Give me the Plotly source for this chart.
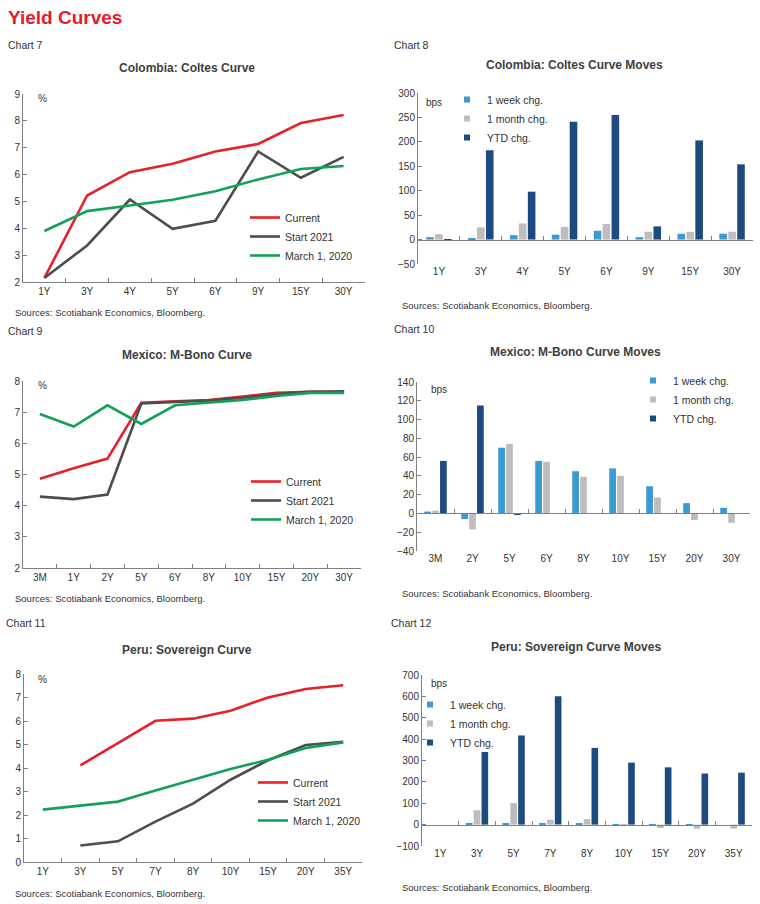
import plotly.graph_objects as go

W, H = 760, 904

# ---------------- data ----------------
co_tenors = ["1Y", "3Y", "4Y", "5Y", "6Y", "9Y", "15Y", "30Y"]
co_current = [2.15, 5.22, 6.09, 6.40, 6.86, 7.14, 7.92, 8.22]
co_start21 = [2.15, 3.36, 5.07, 3.98, 4.28, 6.86, 5.88, 6.66]
co_mar20 = [3.90, 4.64, 4.85, 5.06, 5.38, 5.82, 6.21, 6.32]

co_week = [5, 2, 9, 10, 18, 5, 12, 12]
co_month = [11, 25, 33, 26, 32, 16, 16, 16]
co_ytd = [-1, 183, 98, 241, 255, 27, 203, 154]

mx_tenors = ["3M", "1Y", "2Y", "5Y", "6Y", "8Y", "10Y", "15Y", "20Y", "30Y"]
mx_current = [4.86, 5.20, 5.51, 7.30, 7.35, 7.39, 7.50, 7.62, 7.65, 7.64]
mx_start21 = [4.29, 4.21, 4.36, 7.28, 7.33, 7.37, 7.46, 7.58, 7.65, 7.67]
mx_mar20 = [6.94, 6.54, 7.22, 6.62, 7.22, 7.30, 7.39, 7.52, 7.62, 7.62]

mx_bar_tenors = ["3M", "2Y", "5Y", "6Y", "8Y", "10Y", "15Y", "20Y", "30Y"]
mx_week = [2, -6, 70, 56, 45, 48, 29, 11, 6]
mx_month = [3, -17, 74, 55, 39, 40, 17, -7, -10]
mx_ytd = [56, 115, -1, 0, 0, 0, 0, 0, 0]

pe_tenors = ["1Y", "3Y", "5Y", "7Y", "8Y", "10Y", "15Y", "20Y", "35Y"]
pe_current = [None, 4.11, 5.06, 6.01, 6.10, 6.44, 7.00, 7.36, 7.52]
pe_start21 = [None, 0.70, 0.88, 1.72, 2.48, 3.50, 4.33, 4.98, 5.11]
pe_mar20 = [2.23, 2.41, 2.57, 3.04, 3.50, 3.96, 4.35, 4.85, 5.09]

pe_week = [0, 8, 6, 3, 3, 2, 2, 2, 0]
pe_month = [0, 67, 101, 23, 26, -1, -16, -19, -19]
pe_ytd = [0, 340, 417, 601, 359, 290, 268, 239, 243]

line_names = ["Current", "Start 2021", "March 1, 2020"]
bar_names = ["1 week chg.", "1 month chg.", "YTD chg."]

# ---------------- style ----------------
FONT = "Liberation Sans, Arial, sans-serif"
RED = "#E8202A"
GREY = "#4D4D4D"
GREEN = "#12A05A"
C_WEEK = "#3A9AD3"
C_MONTH = "#BDBDBD"
C_YTD = "#1F4A80"
AXIS = "#808080"
TXT = "#333333"
TITLE = "#404040"


def px(x):
    return x / W


def py(y):
    return 1 - y / H


fig = go.Figure()
annotations = []


def ann(text, x, y, size=10, color=TXT, bold=False, xanchor="left"):
    annotations.append(dict(
        text=f"<b>{text}</b>" if bold else text, x=px(x), y=py(y),
        xref="paper", yref="paper", xanchor=xanchor, yanchor="middle",
        showarrow=False, font=dict(family=FONT, size=size, color=color)))


TICKFONT = dict(family=FONT, size=10, color=TXT)


def yaxis(i, ydom, yrange, dtick):
    sx = "" if i == 1 else str(i)
    fig.layout["yaxis" + sx] = dict(
        domain=[py(ydom[1]), py(ydom[0])], anchor="x" + sx,
        range=yrange, dtick=dtick, tick0=yrange[0], automargin=False,
        showgrid=False, zeroline=False, showline=True, linecolor=AXIS,
        linewidth=1, ticks="inside", ticklen=4, tickcolor=AXIS,
        tickfont=TICKFONT, fixedrange=True)


def line_axes(i, xdom, ydom, yrange, dtick, ncat):
    sx = "" if i == 1 else str(i)
    fig.layout["xaxis" + sx] = dict(
        domain=[px(xdom[0]), px(xdom[1])], anchor="y" + sx,
        type="category", range=[-0.5, ncat - 0.5], automargin=False,
        showgrid=False, zeroline=False, showline=True, linecolor=AXIS,
        linewidth=1, ticks="inside", ticklen=4, tickcolor=AXIS,
        tickson="boundaries", tickfont=TICKFONT, fixedrange=True)
    yaxis(i, ydom, yrange, dtick)


def bar_axes(i, j, xdom, ydom, yrange, dtick, ncat):
    """Bars on axis i, whose line sits at zero; labels on axis j at bottom."""
    sx = str(i)
    zero_frac = (0 - yrange[0]) / (yrange[1] - yrange[0])
    ybot, ytop = py(ydom[1]), py(ydom[0])
    fig.layout["xaxis" + sx] = dict(
        domain=[px(xdom[0]), px(xdom[1])], anchor="free",
        position=ybot + zero_frac * (ytop - ybot),
        type="category", range=[-0.5, ncat - 0.5], automargin=False,
        showgrid=False, zeroline=False, showline=True, linecolor=AXIS,
        linewidth=1, ticks="inside", ticklen=4, tickcolor=AXIS,
        tickson="boundaries", showticklabels=False, fixedrange=True)
    fig.layout["xaxis" + str(j)] = dict(
        domain=[px(xdom[0]), px(xdom[1])], anchor="y" + sx,
        overlaying="x" + sx,
        type="category", range=[-0.5, ncat - 0.5], automargin=False,
        showgrid=False, zeroline=False, showline=False, ticks="",
        tickfont=TICKFONT, fixedrange=True)
    yaxis(i, ydom, yrange, dtick)


def legend_box(lg, xy):
    fig.layout[lg] = dict(
        x=px(xy[0]), y=py(xy[1]), xanchor="left", yanchor="top",
        bgcolor="rgba(0,0,0,0)", itemwidth=30, tracegroupgap=0,
        borderwidth=0, font=dict(family=FONT, size=10.5, color=TXT))


def line_chart(i, cats, series, legend_xy):
    sx = "" if i == 1 else str(i)
    lg = "legend" if i == 1 else f"legend{i}"
    for name, vals, col in zip(line_names, series, [RED, GREY, GREEN]):
        fig.add_trace(go.Scatter(
            x=cats, y=vals, name=name, mode="lines",
            line=dict(color=col, width=2.6), connectgaps=False,
            xaxis="x" + sx, yaxis="y" + sx, legend=lg,
            hoverinfo="skip"))
    legend_box(lg, legend_xy)


def bar_chart(i, j, cats, series, legend_xy):
    sx = str(i)
    lg = f"legend{i}"
    cols = [C_WEEK, C_MONTH, C_YTD]
    for name, vals, col in zip(bar_names, series, cols):
        fig.add_trace(go.Bar(
            x=cats, y=vals, name=name, showlegend=False,
            marker=dict(color=col, line=dict(width=0)),
            xaxis="x" + sx, yaxis="y" + sx, hoverinfo="skip"))
    # legend entries with small square swatches, like the original;
    # they also carry the category labels on the bottom axis
    for name, col in zip(bar_names, cols):
        fig.add_trace(go.Scatter(
            x=cats, y=[None] * len(cats), name=name, mode="markers",
            marker=dict(color=col, symbol="square", size=6),
            xaxis="x" + str(j), yaxis="y" + sx, legend=lg, hoverinfo="skip"))
    legend_box(lg, legend_xy)


# Chart 7
line_axes(1, (23, 365), (94, 282), [2, 9], 1, len(co_tenors))
line_chart(1, co_tenors, [co_current, co_start21, co_mar20], (245, 203))
# Chart 8
bar_axes(2, 7, (418, 753), (93, 264), [-50, 300], 50, len(co_tenors))
bar_chart(2, 7, co_tenors, [co_week, co_month, co_ytd], (447, 85))
# Chart 9
line_axes(3, (23, 361), (381, 568), [2, 8], 1, len(mx_tenors))
line_chart(3, mx_tenors, [mx_current, mx_start21, mx_mar20], (246, 467))
# Chart 10
bar_axes(4, 8, (417, 750), (382, 551), [-40, 140], 20, len(mx_bar_tenors))
bar_chart(4, 8, mx_bar_tenors, [mx_week, mx_month, mx_ytd], (633, 366))
# Chart 11
line_axes(5, (24, 362), (674, 862), [0, 8], 1, len(pe_tenors))
line_chart(5, pe_tenors, [pe_current, pe_start21, pe_mar20], (253, 768))
# Chart 12
bar_axes(6, 9, (422, 752), (675, 846), [-100, 700], 100, len(pe_tenors))
bar_chart(6, 9, pe_tenors, [pe_week, pe_month, pe_ytd], (410, 690))

# ---------------- text ----------------
ann("Yield Curves", 6, 18, size=19, color="#E31B2D", bold=True)

ann("Chart 7", 6, 45, size=10.5)
ann("Colombia: Coltes Curve", 187, 68, size=12, color=TITLE, bold=True, xanchor="center")
ann("%", 36, 98, size=10)
ann("Sources: Scotiabank Economics, Bloomberg.", 13, 312, size=9.5)

ann("Chart 8", 392, 45, size=10.5)
ann("Colombia: Coltes Curve Moves", 574, 65, size=12, color=TITLE, bold=True, xanchor="center")
ann("bps", 424, 102, size=10)
ann("Sources: Scotiabank Economics, Bloomberg.", 400, 305, size=9.5)

ann("Chart 9", 6, 331, size=10.5)
ann("Mexico: M-Bono Curve", 187, 355, size=12, color=TITLE, bold=True, xanchor="center")
ann("%", 36, 385, size=10)
ann("Sources: Scotiabank Economics, Bloomberg.", 13, 598, size=9.5)

ann("Chart 10", 392, 329, size=10.5)
ann("Mexico: M-Bono Curve Moves", 575, 352, size=12, color=TITLE, bold=True, xanchor="center")
ann("bps", 429, 390, size=10)
ann("Sources: Scotiabank Economics, Bloomberg.", 400, 593, size=9.5)

ann("Chart 11", 4, 623, size=10.5)
ann("Peru: Sovereign Curve", 187, 650, size=12, color=TITLE, bold=True, xanchor="center")
ann("%", 36, 679, size=10)
ann("Sources: Scotiabank Economics, Bloomberg.", 13, 893, size=9.5)

ann("Chart 12", 389, 623, size=10.5)
ann("Peru: Sovereign Curve Moves", 576, 647, size=12, color=TITLE, bold=True, xanchor="center")
ann("bps", 429, 683, size=10)
ann("Sources: Scotiabank Economics, Bloomberg.", 400, 887, size=9.5)

fig.update_layout(
    width=W, height=H, margin=dict(l=0, r=0, t=0, b=0),
    paper_bgcolor="white", plot_bgcolor="white",
    barmode="group", bargap=0.36, bargroupgap=0.15,
    annotations=annotations, showlegend=True,
    font=dict(family=FONT, color=TXT),
)

fig.write_html("out.html", config={"displayModeBar": False},
               post_script="document.body.style.margin='0';")
